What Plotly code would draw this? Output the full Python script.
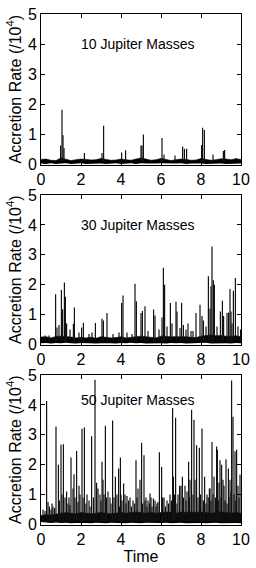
import plotly.graph_objects as go

# ---------------- data ----------------
band_t = [i * 0.25 for i in range(41)]

# 10 Jupiter masses
band10_lo = [0.03,0.02,0.04,0.02,0.03,0.04,0.02,0.03,0.04,0.02,0.03,0.04,0.03,0.02,0.03,0.04,0.02,0.03,0.04,0.02,0.04,
             0.03,0.02,0.03,0.04,0.03,0.02,0.03,0.04,0.02,0.03,0.04,0.03,0.02,0.03,0.04,0.03,0.02,0.03,0.04,0.03]
band10_hi = [0.17,0.18,0.14,0.13,0.22,0.18,0.13,0.16,0.18,0.17,0.15,0.16,0.20,0.17,0.14,0.15,0.18,0.16,0.14,0.18,0.22,
             0.18,0.14,0.16,0.20,0.17,0.13,0.16,0.18,0.17,0.14,0.15,0.20,0.17,0.14,0.16,0.19,0.18,0.16,0.19,0.17]
spike10_t = [0.98,1.05,1.10,1.15,2.17,3.05,3.13,4.03,4.23,5.00,5.05,5.12,6.05,6.15,6.70,7.08,7.17,7.28,8.03,8.08,8.17,8.60,9.12,9.18,9.75]
spike10_v = [0.63,1.82,0.97,0.55,0.38,0.38,1.29,0.40,0.47,0.63,0.63,1.00,0.88,0.33,0.30,0.60,0.52,0.52,0.65,1.22,1.15,0.33,0.45,0.48,0.22]

# 30 Jupiter masses
band30_lo = [0.04,0.05,0.03,0.05,0.04,0.06,0.04,0.03,0.05,0.04,0.05,0.03,0.04,0.05,0.04,0.03,0.05,0.04,0.06,0.04,0.05,
             0.03,0.04,0.05,0.04,0.03,0.05,0.04,0.05,0.03,0.04,0.05,0.04,0.06,0.03,0.04,0.05,0.04,0.03,0.05,0.04]
band30_hi = [0.25,0.26,0.22,0.27,0.28,0.27,0.25,0.22,0.24,0.22,0.24,0.21,0.26,0.24,0.22,0.23,0.26,0.22,0.24,0.26,0.28,
             0.26,0.24,0.22,0.28,0.26,0.26,0.26,0.27,0.26,0.24,0.23,0.28,0.30,0.32,0.29,0.30,0.28,0.27,0.29,0.26]
spike30_t = [0.20,0.40,0.73,0.80,0.90,1.02,1.08,1.17,1.22,1.28,1.45,1.62,1.67,1.90,2.03,2.12,2.40,2.55,2.72,3.05,3.12,3.30,
             3.60,3.90,4.03,4.10,4.30,4.55,4.70,4.77,5.00,5.07,5.20,5.35,5.63,5.70,5.90,6.05,6.12,6.18,6.30,6.47,6.55,
             6.75,6.80,6.95,7.03,7.12,7.25,7.35,7.50,7.60,7.75,7.95,8.05,8.12,8.25,8.37,8.45,8.50,8.55,8.62,8.67,8.80,
             8.97,9.07,9.13,9.30,9.38,9.45,9.50,9.55,9.62,9.72,9.85,9.98]
spike30_v = [0.30,0.30,1.68,0.57,0.65,1.82,1.18,2.07,1.60,0.70,0.50,0.69,1.24,0.40,0.57,0.73,0.35,0.40,0.72,0.86,0.80,1.05,
             0.35,0.40,1.39,1.64,0.40,0.35,2.03,1.45,1.05,1.12,1.28,0.45,1.17,0.97,0.50,0.90,2.57,2.00,0.60,1.39,0.70,
             1.43,1.10,0.55,1.40,0.65,0.50,0.70,0.45,0.45,1.05,1.33,0.95,0.80,0.60,2.28,1.20,1.95,3.28,2.15,2.00,0.60,
             1.10,1.46,0.95,1.05,1.07,1.86,1.10,0.70,1.80,2.22,0.60,0.50]

# 50 Jupiter masses
band50_lo = [0.08,0.06,0.05,0.07,0.05,0.06,0.04,0.05,0.06,0.05,0.04,0.06,0.05,0.04,0.06,0.05,0.05,0.04,0.06,0.05,0.04,
             0.06,0.05,0.04,0.05,0.06,0.04,0.05,0.06,0.04,0.05,0.06,0.05,0.04,0.05,0.06,0.04,0.05,0.06,0.05,0.04]
band50_hi = [0.30,0.33,0.32,0.35,0.38,0.40,0.38,0.36,0.40,0.38,0.36,0.38,0.40,0.38,0.36,0.38,0.40,0.38,0.40,0.42,0.40,
             0.38,0.40,0.38,0.40,0.42,0.40,0.38,0.42,0.40,0.42,0.40,0.42,0.40,0.38,0.40,0.42,0.40,0.38,0.40,0.38]
spike50_t = [0.28,0.35,0.50,0.60,0.75,0.87,1.00,1.12,1.28,1.40,1.50,1.60,1.65,1.78,1.90,2.05,2.17,2.30,2.40,2.53,2.70,2.85,
             2.95,3.05,3.10,3.22,3.35,3.45,3.58,3.72,3.80,3.88,3.97,4.05,4.13,4.20,4.30,4.45,4.60,4.75,4.85,4.95,5.03,
             5.15,5.25,5.35,5.45,5.50,5.62,5.70,5.80,5.92,6.03,6.15,6.30,6.45,6.58,6.62,6.73,6.85,6.93,7.00,7.07,7.20,
             7.30,7.38,7.45,7.53,7.65,7.70,7.78,7.92,8.05,8.18,8.30,8.42,8.45,8.55,8.65,8.78,8.82,8.90,8.95,9.03,9.10,
             9.15,9.25,9.37,9.45,9.53,9.60,9.70,9.78,9.85,9.95]
spike50_v = [4.13,0.75,0.50,0.60,3.28,2.00,2.67,2.68,1.10,0.90,2.24,1.20,1.68,2.46,1.30,3.20,3.24,1.00,0.80,2.95,4.84,1.20,
             1.00,2.10,1.50,3.30,1.10,0.90,3.48,1.60,1.00,1.87,2.24,0.80,1.37,1.00,0.95,0.90,0.80,2.15,1.20,1.50,2.73,
             2.32,0.90,0.80,1.04,0.90,0.87,0.80,0.70,2.42,1.92,0.90,0.80,1.00,3.90,1.60,3.57,1.00,1.30,1.30,1.60,1.30,
             1.10,2.10,1.50,3.84,3.50,1.50,2.65,2.57,3.21,1.60,1.00,1.20,1.20,2.76,1.60,2.61,2.50,1.40,2.15,2.00,1.50,
             1.30,2.18,1.87,1.50,4.82,3.60,2.45,2.50,1.30,1.67]
minor50_t = [0.10,0.20,0.42,0.55,0.68,0.92,1.05,1.20,1.35,1.45,1.70,1.85,1.95,2.10,2.25,2.45,2.62,2.78,3.00,3.15,3.28,
             3.50,3.65,3.92,4.00,4.25,4.38,4.52,4.68,4.80,5.08,5.20,5.30,5.42,5.55,5.75,5.85,6.08,6.22,6.38,6.52,6.68,
             6.80,7.12,7.25,7.42,7.60,7.85,7.98,8.12,8.25,8.36,8.50,8.60,8.72,8.86,9.00,9.20,9.30,9.40,9.50,9.65,9.74,9.90]
minor50_v = [0.50,0.45,0.60,0.70,0.55,0.80,1.00,0.90,0.70,0.65,0.90,0.75,1.00,0.90,0.70,0.60,0.90,1.40,0.80,1.00,0.90,
             0.70,0.90,0.60,1.00,0.70,0.80,0.60,0.70,0.90,0.70,0.80,0.60,0.70,0.60,0.60,0.75,0.90,0.60,0.70,0.80,1.00,
             0.70,0.90,0.80,0.90,1.00,0.90,1.00,0.80,0.70,0.90,0.80,1.00,0.90,0.80,0.90,0.80,0.70,0.90,1.10,1.00,0.80,0.90]

labels = ["10 Jupiter Masses", "30 Jupiter Masses", "50 Jupiter Masses"]
label_y = [4.0, 4.0, 4.17]
x_ticks = [0, 2, 4, 6, 8, 10]
y_ticks = [0, 1, 2, 3, 4, 5]

panels = [
    (band10_lo, band10_hi, spike10_t, spike10_v),
    (band30_lo, band30_hi, spike30_t, spike30_v),
    (band50_lo, band50_hi, spike50_t + minor50_t, spike50_v + minor50_v),
]

# ---------------- figure ----------------
W, H = 256, 568
FONT = "Liberation Sans, Arial, sans-serif"
px_dom = [(14, 164.5), (195, 344.5), (375, 524.5)]
x_dom = [41 / W, 241 / W]

fig = go.Figure()
layout = dict(
    width=W, height=H, margin=dict(l=0, r=0, t=0, b=0, autoexpand=False),
    paper_bgcolor="white", plot_bgcolor="white", showlegend=False,
    font=dict(family=FONT, size=16, color="black"),
)
annotations = []
for i, (lo, hi, st, sv) in enumerate(panels):
    sfx = "" if i == 0 else str(i + 1)
    xa, ya = "x" + sfx, "y" + sfx
    fig.add_trace(go.Scatter(x=band_t, y=lo, mode="lines", line=dict(width=0, color="black"),
                             xaxis=xa, yaxis=ya, hoverinfo="skip"))
    fig.add_trace(go.Scatter(x=band_t, y=hi, mode="lines", line=dict(width=0.6, color="black"),
                             fill="tonexty", fillcolor="black", xaxis=xa, yaxis=ya, hoverinfo="skip"))
    xs, ys = [], []
    for t, v in zip(st, sv):
        xs += [t, t, None]
        ys += [0.1, v, None]
    fig.add_trace(go.Scatter(x=xs, y=ys, mode="lines", line=dict(width=1.2, color="#111111"),
                             xaxis=xa, yaxis=ya, hoverinfo="skip"))
    top, bot = px_dom[i]
    common = dict(showline=True, linecolor="black", linewidth=1, mirror="allticks", ticks="inside",
                  ticklen=4, tickcolor="black", showgrid=False, zeroline=False, automargin=False,
                  tickfont=dict(family=FONT, size=16, color="black"))
    layout["xaxis" + sfx] = dict(common, domain=x_dom, anchor=ya, range=[0, 10],
                                 tickvals=x_ticks, ticktext=[str(v) for v in x_ticks])
    yd = dict(common, domain=[1 - bot / H, 1 - top / H], anchor=xa, range=[0, 5],
              tickvals=y_ticks, ticktext=[str(v) for v in y_ticks],
              title=dict(text="Accretion Rate (/10<sup>4</sup>)", font=dict(family=FONT, size=16), standoff=2))
    layout["yaxis" + sfx] = yd
    if i == 2:
        layout["xaxis" + sfx]["title"] = dict(text="Time", font=dict(family=FONT, size=16), standoff=2)
    annotations.append(dict(x=4.83, y=label_y[i], xref=xa, yref=ya, text=labels[i], showarrow=False,
                            font=dict(family=FONT, size=14, color="black")))

layout["annotations"] = annotations
fig.update_layout(**layout)
fig.write_html("out.html", config={"displayModeBar": False},
               post_script="document.body.style.margin='0';document.body.style.overflow='hidden';")
